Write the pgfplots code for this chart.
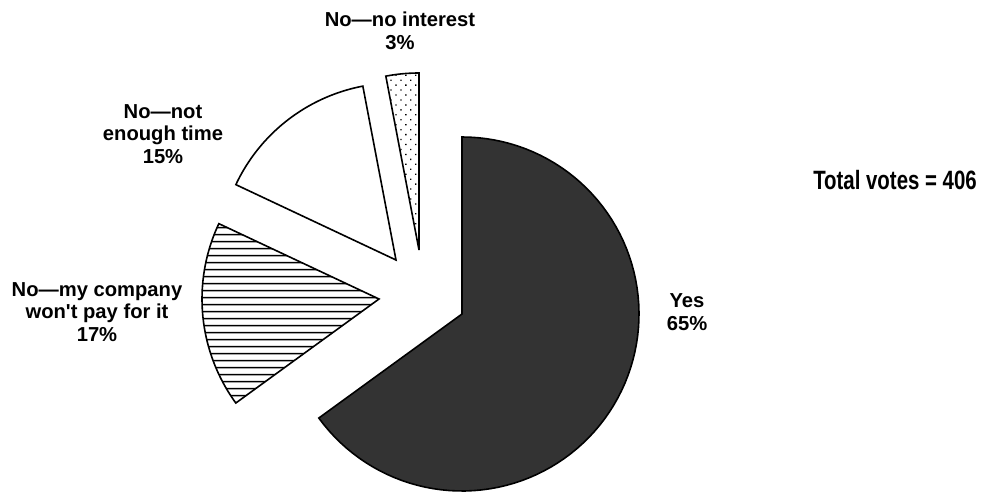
\documentclass[border=0pt]{standalone}
\usepackage{graphicx}
\usepackage{pgfplots}
\pgfplotsset{compat=1.18}
\usepackage{pgfplotstable}
\usetikzlibrary{patterns.meta}
\usepackage{fontspec}
\setmainfont{Liberation Sans}
\newfontfamily\labfont{Liberation Sans}

% slice share (%) and explode offset (px)
\pgfplotstableread{
slice    pct  dx   dy
Yes      65   0    0
Interest 3    -43  64
Time     15   -66  54
Company  17   -83  15
}\piedata
\pgfplotstablegetelem{0}{pct}\of\piedata \let\pYes\pgfplotsretval%
\pgfplotstablegetelem{1}{pct}\of\piedata \let\pInt\pgfplotsretval%
\pgfplotstablegetelem{2}{pct}\of\piedata \let\pTim\pgfplotsretval%
\pgfplotstablegetelem{3}{pct}\of\piedata \let\pCom\pgfplotsretval%
\pgfplotstablegetelem{1}{dx}\of\piedata \let\xInt\pgfplotsretval%
\pgfplotstablegetelem{1}{dy}\of\piedata \let\yInt\pgfplotsretval%
\pgfplotstablegetelem{2}{dx}\of\piedata \let\xTim\pgfplotsretval%
\pgfplotstablegetelem{2}{dy}\of\piedata \let\yTim\pgfplotsretval%
\pgfplotstablegetelem{3}{dx}\of\piedata \let\xCom\pgfplotsretval%
\pgfplotstablegetelem{3}{dy}\of\piedata \let\yCom\pgfplotsretval%
\pgfmathsetmacro\aYs{90-3.6*\pYes}%
\pgfmathsetmacro\aIe{90+3.6*\pInt}%
\pgfmathsetmacro\aTe{\aIe+3.6*\pTim}%
\pgfmathsetmacro\aCe{\aTe+3.6*\pCom}%
\def\cx{462}\def\cy{177}\def\rr{177}%
\pgfmathsetmacro\cxI{\cx+\xInt}\pgfmathsetmacro\cyI{\cy+\yInt}%
\pgfmathsetmacro\cxT{\cx+\xTim}\pgfmathsetmacro\cyT{\cy+\yTim}%
\pgfmathsetmacro\cxC{\cx+\xCom}\pgfmathsetmacro\cyC{\cy+\yCom}%

\begin{document}%
\begin{tikzpicture}
\begin{axis}[
  hide axis, scale only axis,
  width=982pt, height=491pt,
  xmin=0, xmax=982, ymin=0, ymax=491,
  clip=false,
  every axis plot/.append style={line width=1.6pt, draw=black, line join=miter},
]
% Yes
\addplot[fill=black!80, domain=\aYs:90, samples=90, variable=\t]
  ({\cx+\rr*cos(t)}, {\cy+\rr*sin(t)}) -- (axis cs:\cx,\cy) -- cycle;
% No interest
\addplot[pattern={Dots[distance=7pt, angle=45, radius=0.9pt]}, domain=90:\aIe, samples=10, variable=\t]
  ({\cxI+\rr*cos(t)}, {\cyI+\rr*sin(t)}) -- (axis cs:\cxI,\cyI) -- cycle;
% No time
\addplot[fill=white, domain=\aIe:\aTe, samples=40, variable=\t]
  ({\cxT+\rr*cos(t)}, {\cyT+\rr*sin(t)}) -- (axis cs:\cxT,\cyT) -- cycle;
% Company
\addplot[pattern={Lines[angle=0, distance=7.4pt, line width=1.5pt]}, domain=\aTe:\aCe, samples=40, variable=\t]
  ({\cxC+\rr*cos(t)}, {\cyC+\rr*sin(t)}) -- (axis cs:\cxC,\cyC) -- cycle;

\begin{scope}[every node/.style={align=center, font=\labfont\fontsize{20.2}{22.5}\selectfont\bfseries}]
\node at (axis cs:687,179) {Yes\\65\%};
\node at (axis cs:97,179) {No—my company\\won't pay for it\\17\%};
\node at (axis cs:163,357) {No—not\\enough time\\15\%};
\node at (axis cs:400,460) {No—no interest\\3\%};
\end{scope}
\node[font=\labfont\fontsize{26.5}{30}\selectfont\bfseries] at (axis cs:895,311) {\scalebox{0.77}[1]{Total votes = 406}};
\end{axis}
\pgfresetboundingbox
\path (0,0) rectangle (982pt,491pt);
\end{tikzpicture}%
\end{document}
